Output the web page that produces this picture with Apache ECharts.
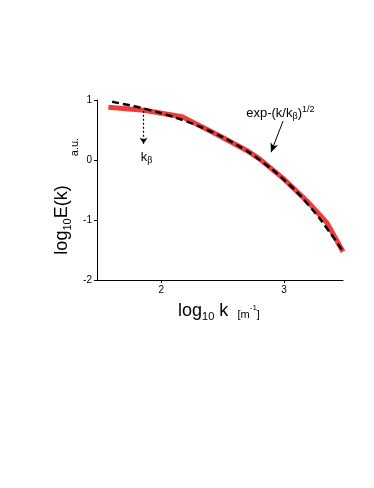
<!DOCTYPE html>
<html><head><meta charset="utf-8">
<script src="https://cdn.jsdelivr.net/npm/echarts@6/dist/echarts.min.js"></script>
<style>html,body{margin:0;padding:0;background:#fff}#c{width:374px;height:488px}</style>
</head><body><div id="c"></div>
<script>
// log10 k values and log10 E(k) values (measured spectrum, red)
const measuredX = [1.57, 1.86, 2.17, 2.45, 2.70, 2.80, 3.00, 3.20, 3.35, 3.48];
const measuredY = [0.88, 0.83, 0.72, 0.43, 0.155, 0.02, -0.32, -0.71, -1.05, -1.53];
// stretched-exponential fit (dashed black)
const fitX = [1.60, 1.70, 1.80, 1.90, 2.00, 2.20, 2.40, 2.60, 2.80, 3.00, 3.20, 3.40, 3.48];
const fitY = [0.97, 0.93, 0.886, 0.836, 0.78, 0.647, 0.479, 0.269, 0.003, -0.331, -0.752, -1.282, -1.53];
const xTicks = [2, 3];
const yTicks = [-2, -1, 0, 1];
const kBeta = 1.856;

const FONT = 'Liberation Sans, Arial, Helvetica, sans-serif';
const chart = echarts.init(document.getElementById('c'));
const zip = (a, b) => a.map((v, i) => [v, b[i]]);

chart.setOption({
  animation: false,
  grid: { left: 97, right: 31, top: 100, bottom: 208 },
  xAxis: {
    type: 'value', min: 1.477, max: 3.48,
    splitLine: { show: false },
    axisLine: { onZero: false, lineStyle: { color: '#000', width: 1 } },
    axisTick: { customValues: xTicks, length: 3, lineStyle: { color: '#000' } },
    axisLabel: { customValues: xTicks, color: '#000', fontSize: 10, fontFamily: FONT, margin: 5 }
  },
  yAxis: {
    type: 'value', min: -2, max: 1, interval: 1,
    splitLine: { show: false },
    axisLine: { show: true, onZero: false, lineStyle: { color: '#000', width: 1 } },
    axisTick: { show: true, length: 3, lineStyle: { color: '#000' } },
    axisLabel: { color: '#000', fontSize: 10, fontFamily: FONT, margin: 5 }
  },
  series: [
    {
      type: 'line', data: zip(measuredX, measuredY), symbol: 'none', smooth: false,
      lineStyle: { color: '#f03c3c', width: 5 }, z: 2
    },
    {
      type: 'line', data: zip(fitX, fitY), symbol: 'none', smooth: true,
      lineStyle: { color: '#000', width: 2.5, type: [7, 4] }, z: 3,
      markLine: {
        silent: true, animation: false,
        label: { show: false },
        data: [
          [{ coord: [kBeta, 0.82], symbol: 'none', lineStyle: { type: [2, 2], width: 1.2, color: '#000' } },
           { coord: [kBeta, 0.27], symbol: 'arrow', symbolSize: [6, 6] }],
          [{ coord: [2.992, 0.65], symbol: 'none', lineStyle: { type: 'solid', width: 1, color: '#000' } },
           { coord: [2.894, 0.13], symbol: 'arrow', symbolSize: [6, 9] }]
        ]
      }
    }
  ]
});

const p1 = chart.convertToPixel({ gridIndex: 0 }, [1.88, 0.05]);
const p2 = chart.convertToPixel({ gridIndex: 0 }, [2.97, 0.78]);

chart.setOption({
  graphic: [
    { type: 'text', x: 62, y: 220, rotation: Math.PI / 2,
      style: { text: '{a|log}{s|10}{a|E(k)}', fill: '#000', align: 'center', verticalAlign: 'middle',
        rich: { a: { fontSize: 18, fontFamily: FONT, lineHeight: 22 },
                s: { fontSize: 11, fontFamily: FONT, lineHeight: 8, verticalAlign: 'bottom' } } } },
    { type: 'text', x: 75, y: 147, rotation: Math.PI / 2,
      style: { text: 'a.u.', fill: '#000', fontSize: 11, fontFamily: FONT, align: 'center', verticalAlign: 'middle' } },
    { type: 'text', x: 219, y: 311,
      style: { text: '{a|log}{s|10}{a| k}{b|   [m}{p|-1}{b|]}', fill: '#000', align: 'center', verticalAlign: 'middle',
        rich: { a: { fontSize: 18, fontFamily: FONT, lineHeight: 22 },
                s: { fontSize: 11, fontFamily: FONT, lineHeight: 8, verticalAlign: 'bottom' },
                b: { fontSize: 11, fontFamily: FONT, lineHeight: 12, verticalAlign: 'bottom', padding: [0, 0, 2, 0] },
                p: { fontSize: 8, fontFamily: FONT, lineHeight: 8, verticalAlign: 'top', padding: [4, 0, 0, 0] } } } },
    { type: 'text', x: p1[0], y: p1[1],
      style: { text: '{a|k}{s|β}', fill: '#000', align: 'center', verticalAlign: 'middle',
        rich: { a: { fontSize: 13, fontFamily: FONT, lineHeight: 16 },
                s: { fontSize: 9, fontFamily: FONT, lineHeight: 6, verticalAlign: 'bottom' } } } },
    { type: 'text', x: p2[0], y: p2[1],
      style: { text: '{a|exp-(k/k}{s|β}{a|)}{p|1/2}', fill: '#000', align: 'center', verticalAlign: 'middle',
        rich: { a: { fontSize: 13, fontFamily: FONT, lineHeight: 16 },
                s: { fontSize: 9, fontFamily: FONT, lineHeight: 6, verticalAlign: 'bottom' },
                p: { fontSize: 9, fontFamily: FONT, lineHeight: 6, verticalAlign: 'top' } } } }
  ]
});
</script></body></html>
